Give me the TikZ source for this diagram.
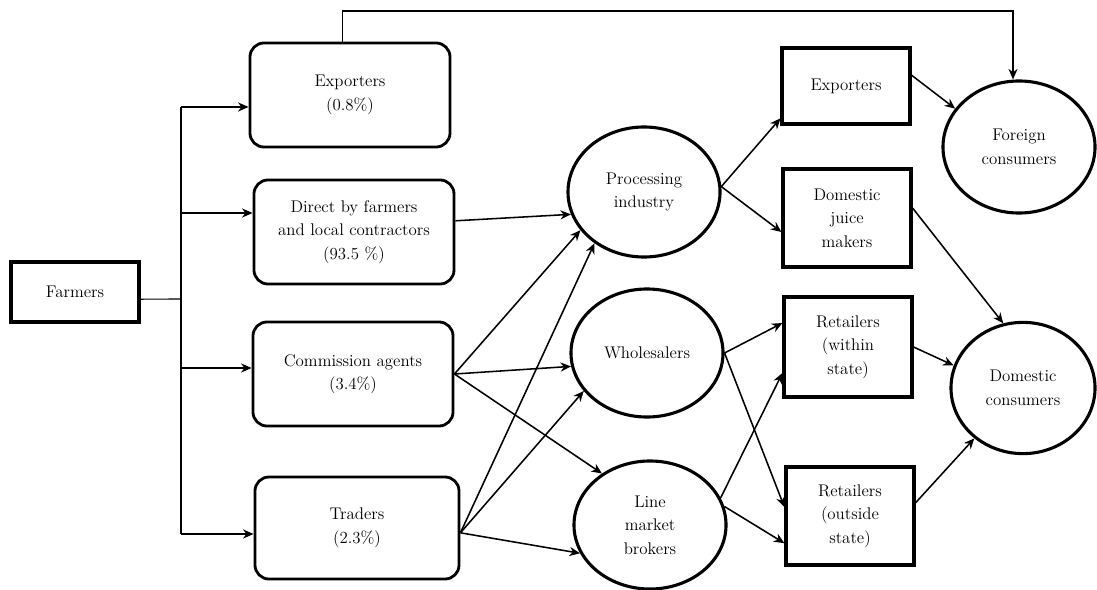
\documentclass[tikz,border=0pt]{standalone}
\usetikzlibrary{shapes.geometric,arrows.meta}

\begin{document}
\begin{tikzpicture}[x=0.025cm,y=-0.025cm,
    font=\fontsize{12}{16.7}\selectfont,
    rbox/.style={draw,line width=2pt,rounded corners=0.35cm,align=center,minimum width=5cm,minimum height=2.6cm},
    sbox/.style={draw,line width=2.2pt,align=center,minimum width=3.2cm,minimum height=2.45cm},
    oval/.style={draw,ellipse,line width=2.2pt,align=center,inner sep=0pt,minimum width=3.8cm,minimum height=3.25cm},
    arr/.style={-{Stealth[length=7.5pt,width=6.5pt]},line width=1.1pt},
    linea/.style={line width=0.8pt}]

        \useasboundingbox (0,0) rectangle (1097,590);

        % Produttori
        \node[draw,line width=2.2pt,minimum width=3.2cm,minimum height=1.5cm] (farmers) at (75,292) {Farmers};

        % Primi intermediari
        \node[rbox] (exp) at (350,95) {Exporters\\(0.8\%)};
        \node[rbox] (direct) at (354,232) {Direct by farmers\\and local contractors\\(93.5 \%)};
        \node[rbox] (comm) at (353,374) {Commission agents\\(3.4\%)};
        \node[rbox,minimum width=5.1cm,minimum height=2.55cm] (trad) at (357,528) {Traders\\(2.3\%)};

        % Secondi intermediari
        \node[oval] (proc) at (644,192) {Processing\\industry};
        \node[oval,minimum height=3.2cm] (whole) at (647,353) {Wholesalers};
        \node[oval,minimum height=3.2cm] (broker) at (650,525) {Line\\market\\brokers};

        % Dettaglianti ed esportatori
        \node[sbox,minimum height=1.9cm] (exp2) at (846,86) {Exporters};
        \node[sbox] (juice) at (847,218) {Domestic\\juice\\makers};
        \node[sbox,minimum height=2.5cm] (retw) at (848,347) {Retailers\\(within\\state)};
        \node[sbox] (reto) at (850,516) {Retailers\\(outside\\state)};

        % Consumatori
        \node[oval,minimum height=3.3cm] (foreign) at (1019,147) {Foreign\\consumers};
        \node[oval,minimum width=3.6cm,minimum height=3.28cm] (domcons) at (1023,388) {Domestic\\consumers};

        % Ramificazione dai produttori
        \coordinate (split) at (181,299);
        \coordinate (t1) at (181,107);
        \coordinate (t2) at (181,213);
        \coordinate (t3) at (181,368);
        \coordinate (t4) at (181,534);
        \draw[linea] ([yshift=-0.18cm]farmers.east) -- (split);
        \draw[linea] (t1) -- (t4);
        \foreach \t/\n in {t1/exp, t2/direct, t3/comm, t4/trad}
            \draw[arr] (\t) -- (\t -| \n.west);

        % Esportazione diretta
        \coordinate (bend) at (1013,11);
        \draw[arr,line width=0.8pt] ([xshift=-0.18cm]exp.north) |- (bend) -- (bend |- foreign.north);

        % Verso l'industria
        \draw[arr] ([yshift=0.28cm]direct.east) -- (proc.197);

        \foreach \dest/\ang in {proc/211, whole/190, broker/133}
            \draw[arr] (comm.east) -- (\dest.\ang);

        \foreach \dest/\ang in {proc/226, whole/211, broker/202}
            \draw[arr] ([yshift=-0.12cm]trad.east) -- (\dest.\ang);

        % Uscite dell'industria
        \draw[arr] (proc.4) -- ([yshift=0.18cm]exp2.south west);
        \draw[arr] (proc.4) -- ([yshift=-0.35cm]juice.west);

        % Grossisti e mediatori
        \draw[arr] (whole.east) -- ([yshift=0.6cm]retw.west);
        \draw[arr] (whole.east) -- ([yshift=0.22cm]reto.west);
        \draw[arr] (broker.21) -- ([yshift=-0.65cm]retw.west);
        \draw[arr] (broker.14) -- ([yshift=-0.68cm]reto.west);

        % Ai consumatori
        \draw[arr] ([yshift=0.27cm]exp2.east) -- (foreign.149);
        \draw[arr] ([yshift=0.25cm]juice.east) -- (domcons.107);
        \draw[arr] (retw.east) -- (domcons.162);
        \draw[arr] ([yshift=0.33cm]reto.east) -- (domcons.226);

        \end{tikzpicture}
\end{document}
